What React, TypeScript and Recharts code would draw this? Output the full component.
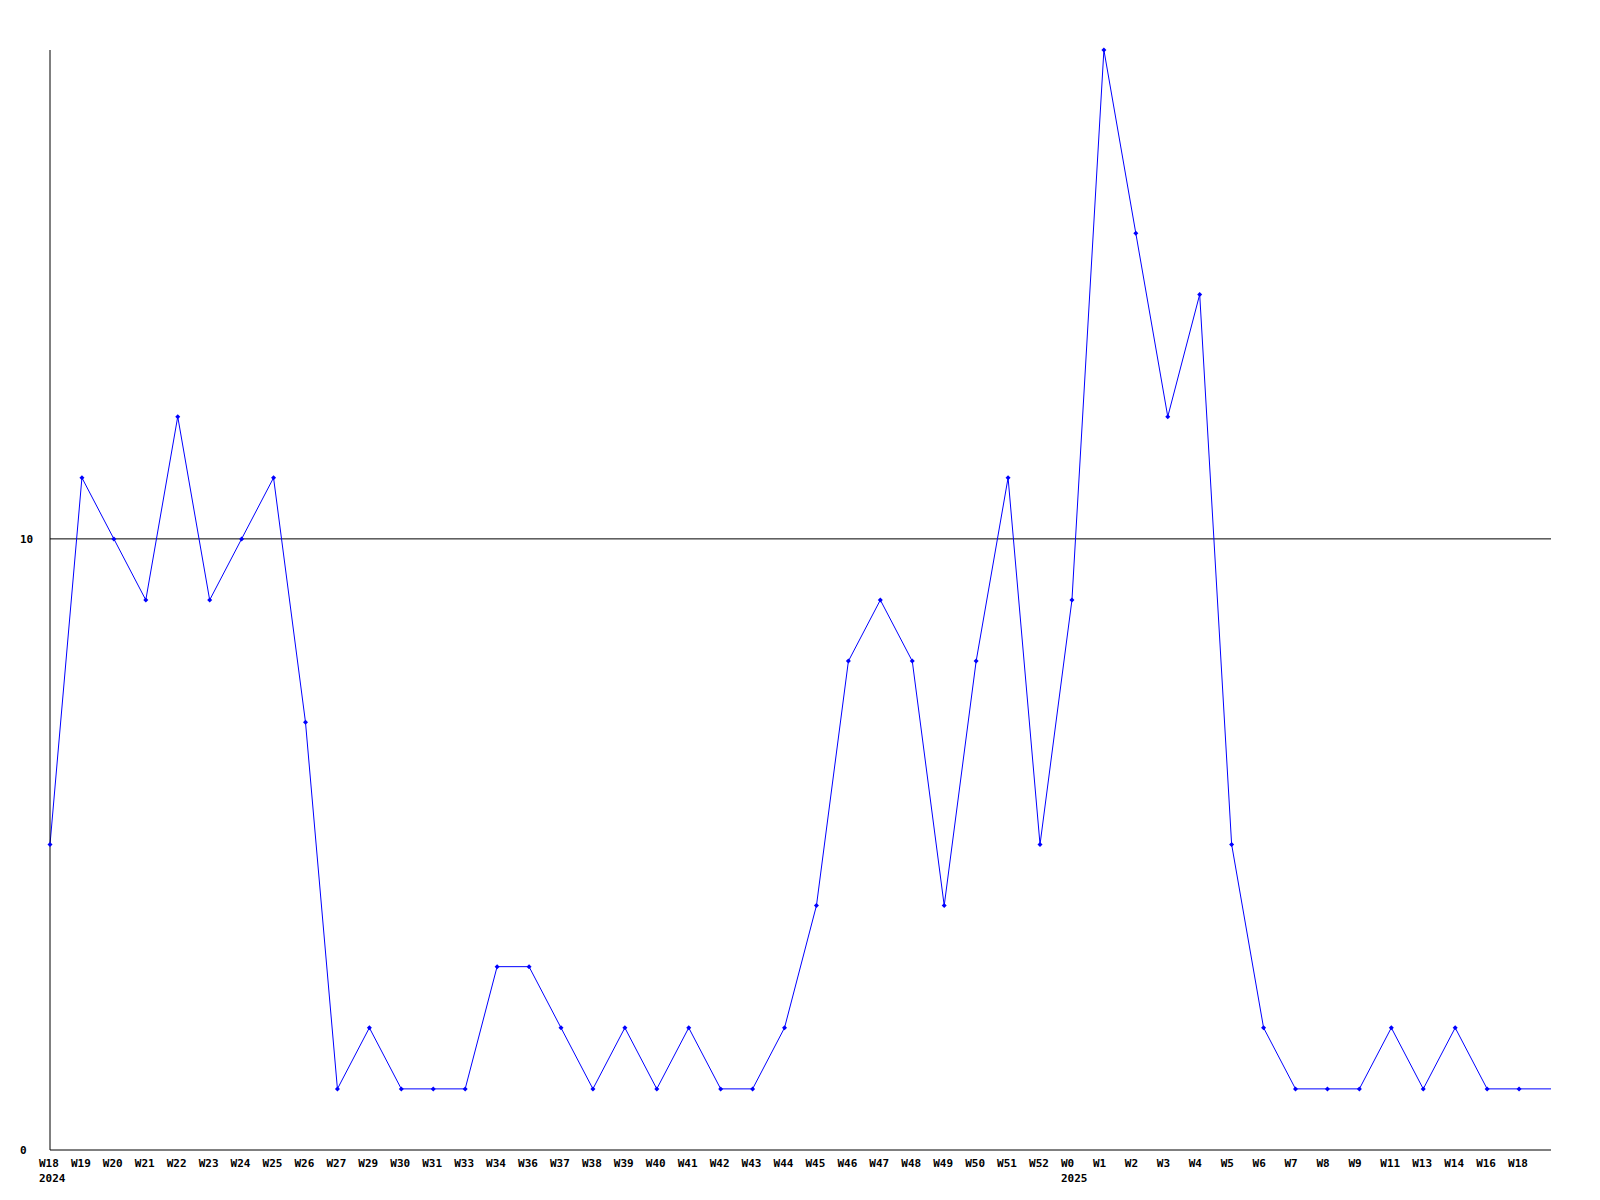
import { LineChart, Line, XAxis, YAxis, ReferenceLine } from "recharts";

const weeks = [
  "W18", "W19", "W20", "W21", "W22", "W23", "W24", "W25", "W26", "W27",
  "W29", "W30", "W31", "W33", "W34", "W36", "W37", "W38", "W39", "W40",
  "W41", "W42", "W43", "W44", "W45", "W46", "W47", "W48", "W49", "W50",
  "W51", "W52", "W0", "W1", "W2", "W3", "W4", "W5", "W6", "W7",
  "W8", "W9", "W11", "W13", "W14", "W16", "W18", "",
];

const years: Record<number, string> = { 0: "2024", 32: "2025" };

const counts = [
  5, 11, 10, 9, 12, 9, 10, 11, 7, 1,
  2, 1, 1, 1, 3, 3, 2, 1, 2, 1,
  2, 1, 1, 2, 4, 8, 9, 8, 4, 8,
  11, 5, 9, 18, 15, 12, 14, 5, 2, 1,
  1, 1, 2, 1, 2, 1, 1, 1,
];

const yTicks = [0, 10];

const data = weeks.map((w, i) => ({ idx: i, week: w, count: counts[i] }));

const FONT = "'DejaVu Sans Mono', monospace";

function WeekTick(props: any) {
  const { x, y, payload } = props;
  const i = payload.index;
  const label = weeks[i];
  const year = years[i];
  const left = x - 11;
  return (
    <g>
      <text x={left} y={y + 9} textAnchor="start" fontFamily={FONT} fontSize={11} fontWeight="bold" fill="#000">
        {label}
      </text>
      {year && (
        <text x={left} y={y + 24} textAnchor="start" fontFamily={FONT} fontSize={11} fontWeight="bold" fill="#000">
          {year}
        </text>
      )}
    </g>
  );
}

function CountTick(props: any) {
  const { y, payload } = props;
  return (
    <text x={20} y={y + 4} textAnchor="start" fontFamily={FONT} fontSize={11} fontWeight="bold" fill="#000">
      {payload.value}
    </text>
  );
}

function Marker(props: any) {
  const { cx, cy, index } = props;
  if (index === counts.length - 1 || cx == null) return <g key={index} />;
  return (
    <path
      key={index}
      d={`M${cx},${cy - 2.5} L${cx + 2.5},${cy} L${cx},${cy + 2.5} L${cx - 2.5},${cy} Z`}
      fill="#0000ff"
    />
  );
}

export default function App() {
  return (
    <div style={{ position: "absolute", left: 0, top: 0, width: 1600, height: 1200, background: "#fff" }}>
      <LineChart width={1600} height={1200} data={data} margin={{ top: 50, right: 49, bottom: 0, left: 0 }}>
        <XAxis
          dataKey="idx"
          type="category"
          interval={0}
          height={50}
          tickLine={false}
          axisLine={{ stroke: "#000", strokeWidth: 1 }}
          tick={<WeekTick />}
        />
        <YAxis
          domain={[0, 18]}
          ticks={yTicks}
          width={50}
          tickLine={false}
          axisLine={{ stroke: "#000", strokeWidth: 1 }}
          tick={<CountTick />}
        />
        <ReferenceLine y={10} stroke="#000" strokeWidth={1} />
        <Line
          type="linear"
          dataKey="count"
          stroke="#0000ff"
          strokeWidth={1}
          dot={<Marker />}
          activeDot={false}
          isAnimationActive={false}
        />
      </LineChart>
    </div>
  );
}
